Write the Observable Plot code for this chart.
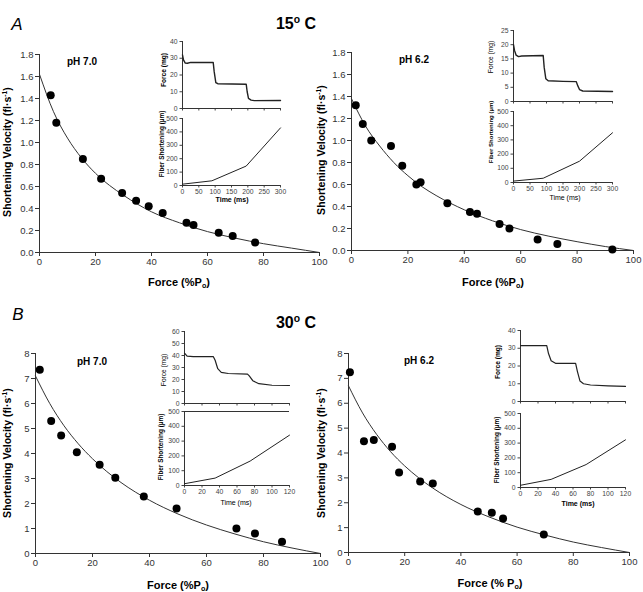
<!DOCTYPE html>
<html><head><meta charset="utf-8">
<script src="https://cdn.jsdelivr.net/npm/d3@7"></script>
<script src="https://cdn.jsdelivr.net/npm/@observablehq/plot@0.6"></script>
<style>
body{margin:0;background:#fff;}
#chart{position:relative;width:643px;height:592px;overflow:hidden;background:#fff;font-family:"Liberation Sans",Arial,Helvetica,sans-serif;}
.lbl{position:absolute;white-space:nowrap;transform:translate(-50%,-50%);color:#000;line-height:1;}
.rot{transform:translate(-50%,-50%) rotate(-90deg);}
.lbl sup{font-size:65%;vertical-align:0.55em;line-height:0;}
.lbl sub{font-size:65%;vertical-align:-0.3em;line-height:0;}
</style></head><body><div id="chart"></div>
<script>
// ---------- DATA ----------
// Main panels: measured points (Force %Po, Shortening velocity fl/s)
const forceA70 = [4, 6, 15.5, 22, 29.5, 34.5, 39, 44, 52.5, 55, 64, 69, 77];
const velA70   = [1.43, 1.18, 0.85, 0.67, 0.54, 0.47, 0.42, 0.36, 0.27, 0.25, 0.18, 0.15, 0.09];
const forceA62 = [1.5, 4, 7, 14, 18, 23, 24.5, 34, 42, 44.5, 52.5, 56, 66, 73, 92.5];
const velA62   = [1.32, 1.15, 1.00, 0.95, 0.77, 0.60, 0.62, 0.43, 0.35, 0.335, 0.24, 0.20, 0.10, 0.06, 0.01];
const forceB70 = [1.5, 5.5, 9, 14.5, 22.5, 28, 38, 49.5, 70.5, 77, 86.5];
const velB70   = [7.35, 5.3, 4.72, 4.05, 3.55, 3.03, 2.28, 1.8, 1.0, 0.8, 0.47];
const forceB62 = [0.5, 5.5, 9, 15.5, 18, 25.5, 30, 46, 51, 55, 69.5];
const velB62   = [7.25, 4.47, 4.52, 4.25, 3.22, 2.85, 2.77, 1.65, 1.6, 1.37, 0.72];

// Fitted curves
const fitForce = [0, 5, 10, 15, 20, 25, 30, 40, 50, 60, 70, 80, 90, 100];
const fitA70 = [1.62, 1.28, 1.04, 0.86, 0.72, 0.61, 0.52, 0.37, 0.27, 0.19, 0.13, 0.08, 0.04, 0];
const fitA62 = [1.38, 1.13, 0.95, 0.80, 0.68, 0.58, 0.50, 0.37, 0.27, 0.19, 0.13, 0.08, 0.036, 0];
const fitB70 = [7.1, 6.0, 5.11, 4.39, 3.79, 3.28, 2.84, 2.13, 1.58, 1.14, 0.78, 0.47, 0.22, 0];
const fitB62 = [6.7, 5.61, 4.75, 4.05, 3.48, 3.0, 2.59, 1.93, 1.43, 1.02, 0.70, 0.42, 0.20, 0];

// Insets: force traces (time ms, force mg)
const tForceA70 = [0, 3, 8, 15, 25, 94, 97, 102, 108, 195, 198, 202, 210, 220, 300];
const fForceA70 = [32, 29, 27.2, 27, 27.5, 27.5, 22, 15.5, 14.8, 14.5, 10, 6, 5, 4.7, 4.8];
const tForceA62 = [0, 3, 8, 15, 25, 90, 93, 98, 105, 150, 190, 195, 200, 210, 300];
const fForceA62 = [20, 18, 16.3, 15.8, 16, 16.2, 12, 8, 7.3, 7.1, 7.0, 5.5, 4.2, 3.7, 3.5];
const tForceB70 = [0, 3, 10, 33, 35, 38, 42, 50, 72, 74, 78, 85, 100, 120];
const fForceB70 = [42, 39.5, 39, 39, 36, 29, 26, 25, 24.5, 23, 19, 16.5, 15.2, 15];
const tForceB62 = [0, 30, 32, 35, 40, 63, 65, 68, 72, 80, 100, 120];
const fForceB62 = [31.5, 31.5, 27, 23, 21.5, 21.5, 17, 11.5, 10, 9.3, 8.8, 8.5];

// Insets: fiber shortening (time ms, µm)
const tShortA70 = [0, 90, 195, 300];
const sShortA70 = [10, 35, 145, 430];
const tShortA62 = [0, 90, 200, 300];
const sShortA62 = [10, 30, 150, 350];
const tShortB70 = [0, 35, 75, 120];
const sShortB70 = [12, 50, 165, 340];
const tShortB62 = [0, 35, 75, 120];
const sShortB62 = [15, 55, 155, 322];

// Tick labels
const mainXTicks = [0, 20, 40, 60, 80, 100];
const yTicksA = [0, 0.2, 0.4, 0.6, 0.8, 1.0, 1.2, 1.4, 1.6, 1.8];
const yTicksB = [0, 1, 2, 3, 4, 5, 6, 7, 8];
const tTicks300 = [0, 50, 100, 150, 200, 250, 300];
const tTicks120 = [0, 20, 40, 60, 80, 100, 120];
const shortTicks = [0, 100, 200, 300, 400, 500];

// ---------- DRAWING ----------
const chart = document.getElementById("chart");
const FONT = '"Liberation Sans", Arial, Helvetica, sans-serif';
const AX = "#333";

function place(svg, left, top) {
  svg.style.position = "absolute";
  svg.style.left = left + "px";
  svg.style.top = top + "px";
  chart.appendChild(svg);
}
function zip(xs, ys) { return xs.map((x, i) => ({x, y: ys[i]})); }

function mainPanel(c) {
  const ml = 40, mr = 8, mt = 10, mb = 22;
  const w = c.fx1 - c.fx0, h = c.fy1 - c.fy0;
  const svg = Plot.plot({
    width: w + ml + mr, height: h + mt + mb,
    marginLeft: ml, marginRight: mr, marginTop: mt, marginBottom: mb,
    style: {background: "transparent", fontFamily: FONT, fontSize: "9.5px", color: "#333", overflow: "visible"},
    x: {domain: [0, 100], ticks: mainXTicks, tickSize: 4, tickPadding: 2, label: null},
    y: {domain: c.ydom, ticks: c.yticks, tickFormat: c.yfmt, tickSize: 4, tickPadding: 2, label: null},
    marks: [
      Plot.ruleX([0], {stroke: AX}),
      Plot.ruleY([0], {stroke: AX}),
      Plot.line(zip(fitForce, c.fit), {x: "x", y: "y", curve: "monotone-x", stroke: "#333", strokeWidth: 1}),
      Plot.dot(zip(c.px, c.py), {x: "x", y: "y", r: 4, fill: "#000", stroke: "none"})
    ]
  });
  place(svg, c.fx0 - ml, c.fy0 - mt);
}

function insetPanel(c) {
  const ml = 24, mr = 6, mt = 4, mb = 12;
  const w = c.fx1 - c.fx0, h = c.fy1 - c.fy0;
  const marks = [
    Plot.ruleX([0], {stroke: AX}),
    Plot.ruleY([0], {stroke: AX}),
    Plot.line(zip(c.tx, c.ty), {x: "x", y: "y", stroke: "#222", strokeWidth: c.sw || 1})
  ];
  if (c.topRule) marks.splice(2, 0, Plot.ruleY([c.ydom[1]], {stroke: AX}));
  const svg = Plot.plot({
    width: w + ml + mr, height: h + mt + mb,
    marginLeft: ml, marginRight: mr, marginTop: mt, marginBottom: mb,
    style: {background: "transparent", fontFamily: FONT, fontSize: "6.8px", color: "#444", overflow: "visible"},
    x: {domain: c.xdom, ticks: c.xticks, tickSize: 2.5, tickPadding: 1.5,
        tickFormat: c.showX ? (d => d) : (() => ""), label: null},
    y: {domain: c.ydom, ticks: c.yticks, tickSize: 2.5, tickPadding: 2.5, label: null},
    marks
  });
  place(svg, c.fx0 - ml, c.fy0 - mt);
}

function label(html, x, y, size, opts = {}) {
  const d = document.createElement("div");
  d.className = "lbl" + (opts.rot ? " rot" : "");
  d.innerHTML = html;
  d.style.left = x + "px";
  d.style.top = y + "px";
  d.style.fontSize = size + "px";
  d.style.fontWeight = opts.bold === false ? "normal" : "bold";
  if (opts.italic) d.style.fontStyle = "italic";
  if (opts.color) d.style.color = opts.color;
  chart.appendChild(d);
}

const f1 = d3.format(".1f");

// Panel A (15 °C)
mainPanel({fx0: 39, fx1: 319, fy0: 54, fy1: 252, ydom: [0, 1.8], yticks: yTicksA, yfmt: f1,
  fit: fitA70, px: forceA70, py: velA70});
mainPanel({fx0: 351, fx1: 633, fy0: 52, fy1: 250, ydom: [0, 1.8], yticks: yTicksA, yfmt: f1,
  fit: fitA62, px: forceA62, py: velA62});
// Panel B (30 °C)
mainPanel({fx0: 35, fx1: 320, fy0: 353, fy1: 553, ydom: [0, 8], yticks: yTicksB, yfmt: d => d,
  fit: fitB70, px: forceB70, py: velB70});
mainPanel({fx0: 348, fx1: 629, fy0: 353, fy1: 552, ydom: [0, 8], yticks: yTicksB, yfmt: d => d,
  fit: fitB62, px: forceB62, py: velB62});

// Insets A left
insetPanel({fx0: 182, fx1: 280, fy0: 41, fy1: 108, xdom: [0, 300], xticks: tTicks300, ydom: [0, 40],
  yticks: [0, 10, 20, 30, 40], tx: tForceA70, ty: fForceA70, showX: false, sw: 1.4});
insetPanel({fx0: 182, fx1: 280, fy0: 118, fy1: 185, xdom: [0, 300], xticks: tTicks300, ydom: [0, 500],
  yticks: shortTicks, tx: tShortA70, ty: sShortA70, showX: true});
// Insets A right
insetPanel({fx0: 513, fx1: 612, fy0: 30, fy1: 101, xdom: [0, 300], xticks: tTicks300, ydom: [0, 25],
  yticks: [0, 5, 10, 15, 20, 25], tx: tForceA62, ty: fForceA62, showX: false, sw: 1.4});
insetPanel({fx0: 513, fx1: 612, fy0: 111, fy1: 182, xdom: [0, 300], xticks: tTicks300, ydom: [0, 500],
  yticks: shortTicks, tx: tShortA62, ty: sShortA62, showX: true});
// Insets B left
insetPanel({fx0: 184, fx1: 289, fy0: 331, fy1: 403, xdom: [0, 120], xticks: tTicks120, ydom: [0, 60],
  yticks: [0, 10, 20, 30, 40, 50, 60], tx: tForceB70, ty: fForceB70, showX: false, sw: 1.2});
insetPanel({fx0: 184, fx1: 289, fy0: 411, fy1: 485, xdom: [0, 120], xticks: tTicks120, ydom: [0, 500],
  yticks: shortTicks, tx: tShortB70, ty: sShortB70, showX: true, topRule: true});
// Insets B right
insetPanel({fx0: 520, fx1: 625, fy0: 330, fy1: 401, xdom: [0, 120], xticks: tTicks120, ydom: [0, 40],
  yticks: [0, 10, 20, 30, 40], tx: tForceB62, ty: fForceB62, showX: false, sw: 1.2});
insetPanel({fx0: 520, fx1: 625, fy0: 413, fy1: 487, xdom: [0, 120], xticks: tTicks120, ydom: [0, 500],
  yticks: shortTicks, tx: tShortB62, ty: sShortB62, showX: true});

// Titles
label("A", 17, 24, 17, {bold: false, italic: true});
label("15<sup>o</sup> C", 296, 24, 16);
label("B", 18, 314, 17, {bold: false, italic: true});
label("30<sup>o</sup> C", 296, 323, 16);

// pH labels
label("pH 7.0", 82, 62, 10);
label("pH 6.2", 414, 60, 10);
label("pH 7.0", 92, 362, 10);
label("pH 6.2", 419, 361, 10);

// Main axis titles
const vel = "Shortening Velocity (fl·s<sup>-1</sup>)";
label(vel, 7, 152, 10.5, {rot: true});
label(vel, 321, 150, 10.5, {rot: true});
label(vel, 7, 453, 10.5, {rot: true});
label(vel, 321, 453, 10.5, {rot: true});
label("Force (%P<sub>o</sub>)", 179, 282, 11);
label("Force (%P<sub>o</sub>)", 493, 282, 11);
label("Force (%P<sub>o</sub>)", 178, 585, 11);
label("Force (% P<sub>o</sub>)", 490, 583, 11);

// Inset axis titles
label("Force (mg)", 164, 70, 6.6, {rot: true});
label("Fiber Shortening (µm)", 162, 144, 6.4, {rot: true});
label("Time (ms)", 232, 199, 7);
label("Force (mg)", 491, 57, 6.6, {rot: true, bold: false});
label("Fiber Shortening (µm)", 491, 132, 6, {rot: true});
label("Time (ms)", 565, 197, 7, {bold: false});
label("Force (mg)", 164, 370, 6.6, {rot: true, bold: false});
label("Fiber Shortening (µm)", 161, 447, 6.4, {rot: true});
label("Time (ms)", 236, 502, 7, {bold: false});
label("Force (mg)", 498, 362, 6.6, {rot: true});
label("Fiber Shortening (µm)", 497, 450, 6.4, {rot: true});
label("Time (ms)", 578, 503, 7);
</script></body></html>
